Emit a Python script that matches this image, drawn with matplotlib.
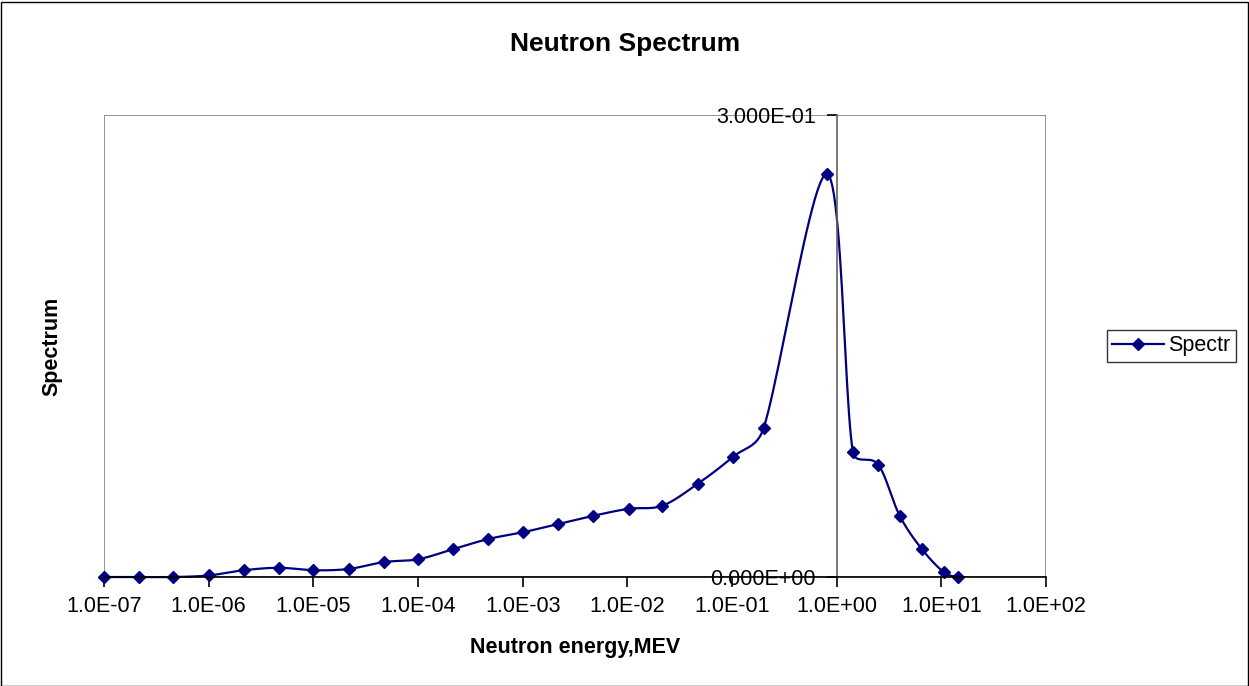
import matplotlib
matplotlib.use("Agg")
import matplotlib.pyplot as plt
from matplotlib.patches import Rectangle
from matplotlib.ticker import FixedLocator, FuncFormatter, NullLocator
import numpy as np

plt.rcParams['font.family'] = ['Liberation Sans', 'DejaVu Sans']

# data
energy = [1.0e-7, 2.17e-7, 4.6e-7, 1.0e-6, 2.17e-6, 4.7e-6, 1.0e-5, 2.17e-5, 4.7e-5,
          1.0e-4, 2.15e-4, 4.7e-4, 1.0e-3, 2.17e-3, 4.75e-3, 1.03e-2, 2.16e-2, 4.72e-2,
          1.02e-1, 2.0e-1, 8.1e-1, 1.43, 2.5, 4.0, 6.5, 10.6, 14.3]
spectr = [0.0, 0.0, 0.0, 0.001, 0.0044, 0.006, 0.0044, 0.0052, 0.0097,
          0.0115, 0.018, 0.0247, 0.029, 0.0344, 0.0398, 0.0443, 0.0463, 0.0606,
          0.078, 0.0965, 0.2617, 0.0812, 0.0729, 0.0398, 0.0182, 0.003, 0.0]
xticks = [1e-7, 1e-6, 1e-5, 1e-4, 1e-3, 1e-2, 1e-1, 1e0, 1e1, 1e2]
yticks = [0.0, 0.3]

W, H = 1249, 686
fig = plt.figure(figsize=(W / 100, H / 100), dpi=100)
fig.patches.append(Rectangle((0.5 / W, 0.5 / H), 1 - 2 / W, 1 - 2 / H, transform=fig.transFigure,
                             fill=False, edgecolor='black', linewidth=1.0))

ax = fig.add_axes([104 / W, 1 - 577 / H, (1046 - 104) / W, (577 - 115) / H])
ax.set_xscale('log')
ax.set_xlim(1e-7, 1e2)
ax.set_ylim(0, 0.3)

# plot area frame (gray) and the y axis crossing at x = 1
ax.add_patch(Rectangle((0, 0), 1, 1, transform=ax.transAxes, fill=False,
                       edgecolor='#808080', linewidth=1.2, zorder=0.5))
for s in ['top', 'right']:
    ax.spines[s].set_visible(False)
ax.spines['left'].set_position(('data', 1.0))
ax.spines['left'].set_color('#606060')
ax.spines['left'].set_linewidth(1.2)
ax.spines['bottom'].set_color('black')
ax.spines['bottom'].set_linewidth(1.2)

ax.xaxis.set_major_locator(FixedLocator(xticks))
ax.xaxis.set_minor_locator(NullLocator())
ax.xaxis.set_major_formatter(FuncFormatter(lambda v, p: '%.1E' % v))
ax.yaxis.set_major_locator(FixedLocator(yticks))
ax.yaxis.set_major_formatter(FuncFormatter(lambda v, p: '%.3E' % v))
ax.tick_params(axis='x', direction='out', length=7, width=1.2, labelsize=15.5, pad=7, color='black')
ax.tick_params(axis='y', direction='out', length=7, width=1.2, labelsize=15.5, pad=8, color='black')


def smooth(p0, p1, p2, p3):
    # spreadsheet-style bezier: tangent arms of 1/6, capped at half the segment
    d12 = np.hypot(*(p2 - p1))
    d02 = np.hypot(*(p2 - p0))
    d13 = np.hypot(*(p3 - p1))
    f0 = 1 / 6.0
    f1 = 1 / 6.0
    if d02 * f0 > d12 / 2 and d02 > 0:
        f0 = d12 / 2 / d02
    if d13 * f1 > d12 / 2 and d13 > 0:
        f1 = d12 / 2 / d13
    c1 = p1 + (p2 - p0) * f0
    c2 = p2 - (p3 - p1) * f1
    t = np.linspace(0, 1, 24)[:, None]
    return (1 - t) ** 3 * p1 + 3 * (1 - t) ** 2 * t * c1 + 3 * (1 - t) * t ** 2 * c2 + t ** 3 * p2


pts = ax.transData.transform(np.column_stack([energy, spectr]))
n = len(pts)
curve = []
for i in range(n - 1):
    seg = smooth(pts[max(i - 1, 0)], pts[i], pts[i + 1], pts[min(i + 2, n - 1)])
    curve.append(seg if i == 0 else seg[1:])
curve = ax.transData.inverted().transform(np.vstack(curve))

ax.plot(curve[:, 0], curve[:, 1], color='#000080', linewidth=1.6, clip_on=False)
ax.plot(energy, spectr, linestyle='none', marker='D', markersize=6,
        color='#000080', clip_on=False)

# legend
handle, = ax.plot([], [], color='#000080', linewidth=1.6, marker='D', markersize=6)
leg = fig.legend([handle], ['Spectr'], loc='center left',
                 bbox_to_anchor=(1107 / W, 1 - 346 / H), fontsize=15.5,
                 frameon=True, fancybox=False, handlelength=2.4, handletextpad=0.2,
                 borderpad=0.25, borderaxespad=0)
leg.get_frame().set_edgecolor('black')
leg.get_frame().set_linewidth(1.0)

fig.text(625 / W, 1 - 44 / H, 'Neutron Spectrum', fontsize=19, fontweight='bold',
         ha='center', va='center')
fig.text(575 / W, 1 - 648 / H, 'Neutron energy,MEV', fontsize=15.5, fontweight='bold',
         ha='center', va='center')
fig.text(52 / W, 1 - 346 / H, 'Spectrum', fontsize=15.5, fontweight='bold',
         ha='center', va='center', rotation=90)

fig.savefig('out.png', dpi=100)
